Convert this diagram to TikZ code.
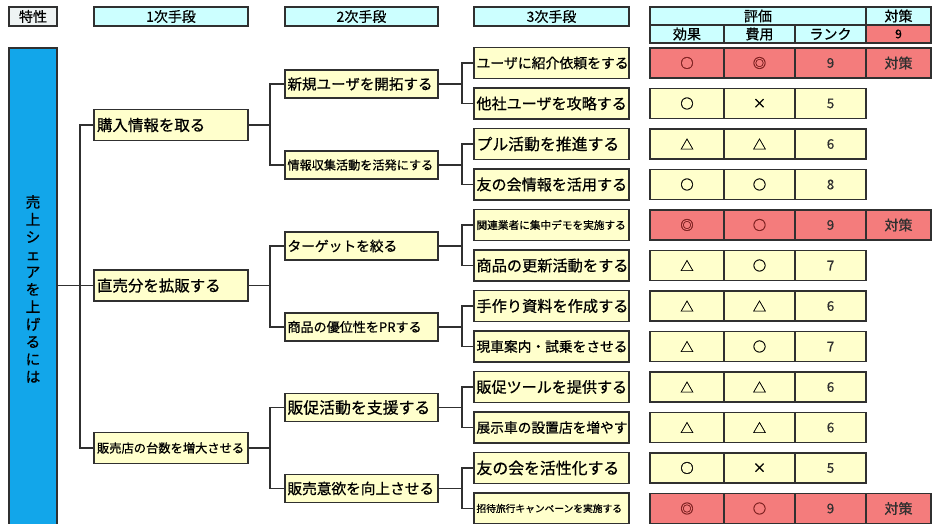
\documentclass[tikz,border=0pt]{standalone}
\usepackage{fontspec}
\setmainfont{Noto Sans CJK JP}[FakeBold=0.7]
\definecolor{ylw}{HTML}{FFFFCC}
\definecolor{cyn}{HTML}{CCFFFF}
\definecolor{redc}{HTML}{F47C7C}
\definecolor{rootc}{HTML}{12A6EA}
\definecolor{linec}{HTML}{303030}
\definecolor{symred}{HTML}{7A1E1E}
\definecolor{hgray}{HTML}{EEF3F3}
\newcommand\myfs[1]{\fontsize{#1}{#1}\selectfont}
\def\px{0.75pt}
\begin{document}
\begin{tikzpicture}[x=0.75pt,y=-0.75pt,
  box/.style={draw=linec, line width=1.2pt, fill=ylw, inner sep=0pt, outer sep=0pt},
  hdr/.style={draw=linec, line width=1pt, fill=cyn, inner sep=0pt, outer sep=0pt, font=\myfs{10.5}},
  lvone/.style={box, minimum width=154*\px, minimum height=31*\px, text width=148*\px, align=left},
  lvtwo/.style={box, minimum width=153*\px, minimum height=28*\px, text width=148*\px, align=left},
  lvthree/.style={box, minimum width=155*\px, minimum height=31*\px, text width=150*\px, align=left},
  cell/.style={draw=linec, line width=1pt, inner sep=0pt, outer sep=0pt, minimum height=30*\px, font=\myfs{10}},
  conn/.style={draw=linec, line width=1.1pt}
]
\useasboundingbox (0,0) rectangle (932,524);

% headers
\node[hdr, fill=hgray, minimum width=48*\px, minimum height=19*\px] (h0) at (33,16.5) {特性};
\node[hdr, minimum width=154*\px, minimum height=19*\px] (h1) at (171,16.5) {1次手段};
\node[hdr, minimum width=153*\px, minimum height=19*\px] (h2) at (361.5,16.5) {2次手段};
\node[hdr, minimum width=155*\px, minimum height=19*\px] (h3) at (551.5,16.5) {3次手段};
\node[hdr, minimum width=216*\px, minimum height=18*\px] (he) at (758,16) {評価};
\node[hdr, minimum width=65*\px, minimum height=18*\px] (ht) at (898.5,16) {対策};
\node[hdr, minimum width=74*\px, minimum height=18*\px] (hc1) at (687,34) {効果};
\node[hdr, minimum width=71*\px, minimum height=18*\px] (hc2) at (759.5,34) {費用};
\node[hdr, minimum width=71*\px, minimum height=18*\px] (hc3) at (830.5,34) {ランク};
\node[hdr, fill=redc, minimum width=65*\px, minimum height=18*\px, font=\myfs{9}] (hc4) at (898.5,34) {9};

% root
\node[draw=linec, line width=1.1pt, fill=rootc, minimum width=48*\px, minimum height=482*\px,
  inner sep=0pt, align=center, font=\myfs{11}, text=black] (root) at (33,289)
  {\raisebox{3.5pt}{\parbox{20pt}{\centering\baselineskip=13.1pt 売\\上\\シ\\ェ\\ア\\を\\上\\げ\\る\\に\\は}}};

% level 1
\node[lvone, font=\myfs{11.6}] (la) at (171,125) {購入情報を取る};
\node[lvone, font=\myfs{11.6}] (lb) at (171,285.5) {直売分を拡販する};
\node[lvone, font=\myfs{9.2}] (lc) at (171,448) {販売店の台数を増大させる};

% level 2
\node[lvtwo, font=\myfs{10.9}] (ma) at (361.5,84) {新規ユーザを開拓する};
\node[lvtwo, font=\myfs{9.1}] (mb) at (361.5,165) {情報収集活動を活発にする};
\node[lvtwo, font=\myfs{10.3}] (mc) at (361.5,246) {ターゲットを絞る};
\node[lvtwo, font=\myfs{9.8}] (md) at (361.5,327) {商品の優位性をPRする};
\node[lvtwo, font=\myfs{11.9}] (me) at (361.5,407.5) {販促活動を支援する};
\node[lvtwo, font=\myfs{11}] (mf) at (361.5,488.5) {販売意欲を向上させる};

% level 3
\node[lvthree, font=\myfs{10.4}] (t1) at (551.5,63) {ユーザに紹介依頼をする};
\node[lvthree, font=\myfs{11.3}] (t2) at (551.5,103.5) {他社ユーザを攻略する};
\node[lvthree, font=\myfs{11.9}] (t3) at (551.5,144) {プル活動を推進する};
\node[lvthree, font=\myfs{11.3}] (t4) at (551.5,184.5) {友の会情報を活用する};
\node[lvthree, font=\myfs{8}] (t5) at (551.5,225) {関連業者に集中デモを実施する};
\node[lvthree, font=\myfs{11.4}] (t6) at (551.5,265.5) {商品の更新活動をする};
\node[lvthree, font=\myfs{11.4}] (t7) at (551.5,306) {手作り資料を作成する};
\node[lvthree, font=\myfs{10.3}] (t8) at (551.5,346.5) {現車案内・試乗をさせる};
\node[lvthree, font=\myfs{11.3}] (t9) at (551.5,387) {販促ツールを提供する};
\node[lvthree, font=\myfs{10.3}] (t10) at (551.5,427.5) {展示車の設置店を増やす};
\node[lvthree, font=\myfs{11.9}] (t11) at (551.5,468) {友の会を活性化する};
\node[lvthree, font=\myfs{7.3}] (t12) at (551.5,508.5) {招待旅行キャンペーンを実施する};

% evaluation cells
\foreach \i/\yy/\a/\b/\c/\red in {
  1/63/○/◎/9/1, 2/103.5/○/×/5/0, 3/144/△/△/6/0, 4/184.5/○/○/8/0,
  5/225/◎/○/9/1, 6/265.5/△/○/7/0, 7/306/△/△/6/0, 8/346.5/△/○/7/0,
  9/387/△/△/6/0, 10/427.5/△/△/6/0, 11/468/○/×/5/0, 12/508.5/◎/○/9/1}{
  \ifnum\red=1
    \node[cell, fill=redc, text=symred, minimum width=74*\px] (e\i a) at (687,\yy) {\a};
    \node[cell, fill=redc, text=symred, minimum width=71*\px] (e\i b) at (759.5,\yy) {\b};
    \node[cell, fill=redc, text=linec, minimum width=71*\px] (e\i c) at (830.5,\yy) {\c};
    \node[cell, fill=redc, text=linec, minimum width=65*\px, font=\myfs{10.5}] (e\i d) at (898.5,\yy) {対策};
  \else
    \node[cell, fill=ylw, minimum width=74*\px] (e\i a) at (687,\yy) {\a};
    \node[cell, fill=ylw, minimum width=71*\px] (e\i b) at (759.5,\yy) {\b};
    \node[cell, fill=ylw, text=linec, minimum width=71*\px] (e\i c) at (830.5,\yy) {\c};
  \fi
}

% connectors root -> level 1
\draw[conn] (root.east |- lb.west) -- (lb.west);
\draw[conn] (la.west) -- ++(-14,0) |- (lc.west);

% level 1 -> level 2
\foreach \p/\u/\v in {la/ma/mb, lb/mc/md, lc/me/mf}{
  \draw[conn] (\p.east) -- ([xshift=-15*\px]\p.east -| \u.west);
  \draw[conn] (\u.west) -- ++(-15,0) |- (\v.west);
}

% level 2 -> level 3
\foreach \p/\u/\v in {ma/t1/t2, mb/t3/t4, mc/t5/t6, md/t7/t8, me/t9/t10, mf/t11/t12}{
  \draw[conn] (\p.east) -- ([xshift=-12*\px]\p.east -| \u.west);
  \draw[conn] (\u.west) -- ++(-12,0) |- (\v.west);
}
\end{tikzpicture}
\end{document}
